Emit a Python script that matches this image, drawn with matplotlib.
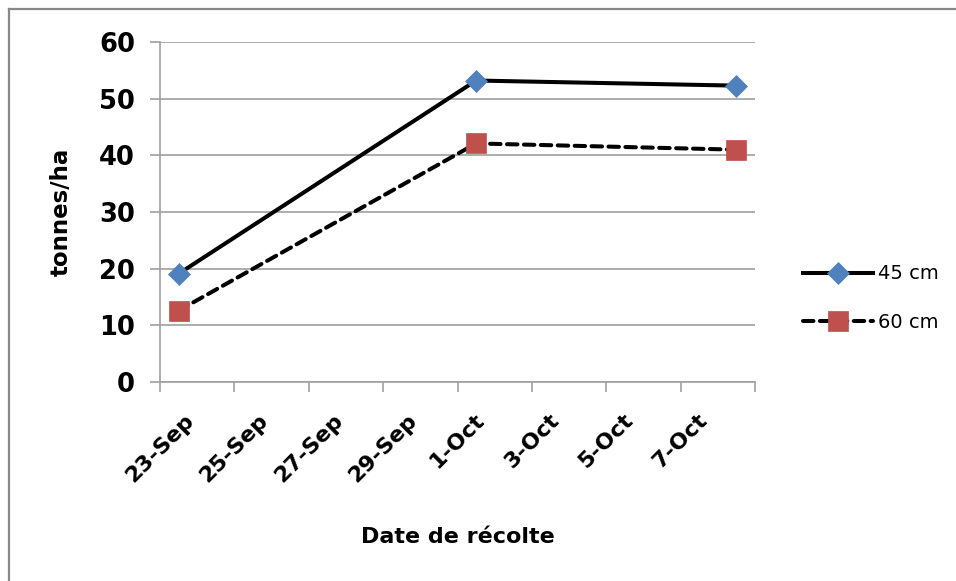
import matplotlib
matplotlib.use('Agg')
import matplotlib.pyplot as plt
import matplotlib.dates as mdates
from matplotlib.lines import Line2D
from datetime import datetime, timedelta

# harvest dates and yields
harvest_dates = ["2010-09-23", "2010-10-01", "2010-10-08"]
yield_45cm = [19.1, 53.2, 52.3]
yield_60cm = [12.6, 42.1, 41.0]
series_labels = ["45 cm", "60 cm"]

axis_start = "2010-09-23"
axis_end = "2010-10-09"

W, H = 956, 581
fig = plt.figure(figsize=(W / 100, H / 100), dpi=100)
ax = fig.add_axes([160 / W, 1 - 382 / H, 595 / W, 340 / H])

# Excel puts each point in the middle of its day
x_vals = [datetime.strptime(d, "%Y-%m-%d") + timedelta(hours=12) for d in harvest_dates]

ax.plot(x_vals, yield_45cm, color="black", lw=2.9, marker="D", markersize=11,
        markerfacecolor="#4F81BD", markeredgecolor="#4F81BD", markeredgewidth=0.5,
        label=series_labels[0], zorder=3)
ax.plot(x_vals, yield_60cm, color="black", lw=2.9, linestyle=(0, (2.6, 1.6)),
        dash_capstyle="round", marker="s", markersize=14.5,
        markerfacecolor="#C0504D", markeredgecolor="#C0504D", markeredgewidth=0.5,
        label=series_labels[1], zorder=3)

start = datetime.strptime(axis_start, "%Y-%m-%d")
end = datetime.strptime(axis_end, "%Y-%m-%d")
ax.set_xlim(start, end)
ax.set_ylim(0, 60)

tick_days = []
d = start
while d <= end:
    tick_days.append(d)
    d += timedelta(days=2)
tick_labels = [f"{t.day}-{t.strftime('%b')}" for t in tick_days[:-1]] + [""]
ax.set_xticks([mdates.date2num(t) for t in tick_days])
ax.set_xticklabels(tick_labels, rotation=45, ha="center", va="top",
                   fontsize=16, fontweight="bold")
ax.set_yticks(range(0, 61, 10))
ax.set_yticklabels([str(v) for v in range(0, 61, 10)], fontsize=18.5, fontweight="bold")

grid_col = "#a0a0a0"
ax.grid(axis="y", color=grid_col, lw=1.2)
ax.set_axisbelow(True)
for side in ["top", "right"]:
    ax.spines[side].set_visible(False)
for side in ["left", "bottom"]:
    ax.spines[side].set_color(grid_col)
    ax.spines[side].set_linewidth(1.2)
ax.tick_params(axis="both", direction="out", length=7, width=1.2, color=grid_col)
ax.tick_params(axis="x", pad=13)
ax.tick_params(axis="y", pad=11)

ax.set_xlabel("Date de récolte", fontsize=16, fontweight="bold", labelpad=30)
ax.set_ylabel("tonnes/ha", fontsize=16.5, fontweight="bold", labelpad=19)

ax.legend(loc="center left", bbox_to_anchor=(785 / W, 1 - 298 / H),
          bbox_transform=fig.transFigure, frameon=False, fontsize=14,
          handlelength=3.6, handletextpad=0.3, labelspacing=1.5)

# chart border (only left and top visible in the crop)
border_col = "#888888"
fig.add_artist(Line2D([8.5 / W, 8.5 / W], [0, 1 - 9 / H], color=border_col, lw=1.6,
                      transform=fig.transFigure))
fig.add_artist(Line2D([8.5 / W, 1], [1 - 9 / H, 1 - 9 / H], color=border_col, lw=1.6,
                      transform=fig.transFigure))

plt.savefig("out.png", dpi=100, facecolor="white")
